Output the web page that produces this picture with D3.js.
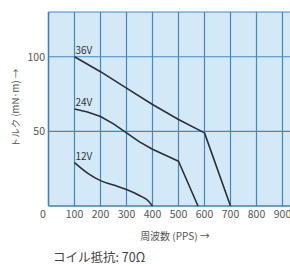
<!DOCTYPE html>
<html>
<head>
<meta charset="utf-8">
<script src="https://cdn.jsdelivr.net/npm/d3@7"></script>
<style>
  body { margin: 0; background: #fff; }
  svg { display: block; font-family: "Noto Sans CJK JP", "Noto Sans", sans-serif; }
</style>
</head>
<body>
<div id="chart"></div>
<script>
// data
const xTicks = [100, 200, 300, 400, 500, 600, 700, 800, 900];
const yTicks = [50, 100];
const seriesNames = ['36V', '24V', '12V'];
const pps36 = [100, 200, 300, 400, 500, 600, 700];
const torque36 = [100, 90, 79, 68, 58, 49, 0];
const pps24 = [100, 150, 200, 250, 300, 350, 400, 450, 500, 575];
const torque24 = [65, 63, 60, 55, 49, 43, 38, 34, 30, 0];
const pps12 = [100, 150, 200, 250, 300, 350, 380, 400];
const torque12 = [29, 22, 17, 14, 11, 7, 4, 0];

const width = 290, height = 267;
const svg = d3.select('#chart').append('svg')
  .attr('width', width)
  .attr('height', height);

// scales
const x = d3.scaleLinear().domain([0, 900]).range([48.5, 282.5]);
const y = d3.scaleLinear().domain([0, 130]).range([206, 12]);
const xMax = 940;

// plot background
svg.append('rect')
  .attr('x', x(0)).attr('y', y(130))
  .attr('width', x(xMax) - x(0)).attr('height', y(0) - y(130))
  .attr('fill', '#d3e9f8');

// grid
const grid = svg.append('g').attr('stroke', '#4588bf').attr('stroke-width', 1.2);
grid.selectAll('.v').data(xTicks).enter().append('line')
  .attr('x1', d => x(d)).attr('x2', d => x(d))
  .attr('y1', y(130)).attr('y2', y(0));
grid.selectAll('.h').data(yTicks.concat([130])).enter().append('line')
  .attr('x1', x(0)).attr('x2', x(xMax))
  .attr('y1', d => y(d)).attr('y2', d => y(d));

// axes frame (left + bottom)
svg.append('line')
  .attr('x1', x(0)).attr('x2', x(0)).attr('y1', y(130)).attr('y2', y(0))
  .attr('stroke', '#3f7fb5').attr('stroke-width', 1.6);
svg.append('line')
  .attr('x1', x(0)).attr('x2', x(xMax)).attr('y1', y(0)).attr('y2', y(0))
  .attr('stroke', '#3f7fb5').attr('stroke-width', 1.6);

// tick labels
svg.append('g').selectAll('text').data(xTicks).enter().append('text')
  .attr('x', d => x(d)).attr('y', 218)
  .attr('text-anchor', 'middle')
  .attr('font-size', 10.5).attr('fill', '#555')
  .text(d => d);
svg.append('text')
  .attr('x', 43).attr('y', 218)
  .attr('text-anchor', 'middle')
  .attr('font-size', 10.5).attr('fill', '#555')
  .text('0');
svg.append('g').selectAll('text').data(yTicks).enter().append('text')
  .attr('x', 45).attr('y', d => y(d) + 4)
  .attr('text-anchor', 'end')
  .attr('font-size', 10.5).attr('fill', '#555')
  .text(d => d);

// curves
const series = [
  { name: seriesNames[0], pts: pps36.map((p, i) => [p, torque36[i]]), curve: d3.curveLinear },
  { name: seriesNames[1], pts: pps24.map((p, i) => [p, torque24[i]]), curve: d3.curveLinear },
  { name: seriesNames[2], pts: pps12.map((p, i) => [p, torque12[i]]), curve: d3.curveMonotoneX }
];

series.forEach(s => {
  const line = d3.line()
    .x(d => x(d[0]))
    .y(d => y(d[1]))
    .curve(s.curve);
  svg.append('path')
    .attr('d', line(s.pts))
    .attr('fill', 'none')
    .attr('stroke', '#2b2f38')
    .attr('stroke-width', 1.6)
    .attr('stroke-linejoin', 'round');
  svg.append('text')
    .attr('x', x(s.pts[0][0]) + 1)
    .attr('y', y(s.pts[0][1]) - 3)
    .attr('font-size', 10).attr('fill', '#333')
    .text(s.name);
});

// axis titles
svg.append('text')
  .attr('transform', 'translate(19,108) rotate(-90)')
  .attr('text-anchor', 'middle')
  .attr('font-size', 9.5).attr('fill', '#555')
  .text('トルク (mN·m) →');
svg.append('text')
  .attr('x', 175).attr('y', 240)
  .attr('text-anchor', 'middle')
  .attr('font-size', 10).attr('fill', '#555')
  .text('周波数 (PPS) →');

svg.append('text')
  .attr('x', 53).attr('y', 262)
  .attr('font-size', 12.5).attr('fill', '#444')
  .text('コイル抵抗: 70Ω');
</script>
</body>
</html>
